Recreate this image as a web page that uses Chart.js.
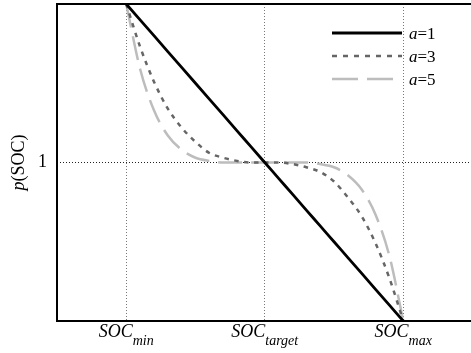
<!DOCTYPE html>
<html>
<head>
<meta charset="utf-8">
<script src="https://cdn.jsdelivr.net/npm/chart.js@4.4.1/dist/chart.umd.min.js"></script>
<style>
  html, body { margin: 0; padding: 0; background: #fff; }
  #wrap { width: 471px; height: 353px; }
</style>
</head>
<body>
<div id="wrap"><canvas id="c"></canvas></div>
<script>
// x: 0 = SOC_min, 1 = SOC_target, 2 = SOC_max
const xTicks = [0, 1, 2];
const xSubs = ["min", "target", "max"];
const yTicks = [1];

const socPoints = [0, 0.1, 0.2, 0.3, 0.4, 0.5, 0.6, 0.7, 0.8, 0.9, 1.0,
                   1.1, 1.2, 1.3, 1.4, 1.5, 1.6, 1.7, 1.8, 1.9, 2.0];
const pA1 = [2, 1.9, 1.8, 1.7, 1.6, 1.5, 1.4, 1.3, 1.2, 1.1, 1.0,
             0.9, 0.8, 0.7, 0.6, 0.5, 0.4, 0.3, 0.2, 0.1, 0];
const pA3 = [2, 1.73, 1.51, 1.34, 1.22, 1.13, 1.06, 1.03, 1.01, 1.0, 1.0,
             1.0, 0.99, 0.97, 0.94, 0.88, 0.78, 0.66, 0.49, 0.27, 0];
const pA5 = [2, 1.59, 1.33, 1.17, 1.08, 1.03, 1.01, 1.0, 1.0, 1.0, 1.0,
             1.0, 1.0, 1.0, 0.99, 0.97, 0.92, 0.83, 0.67, 0.41, 0];

const seriesNames = ["1", "3", "5"];
const seriesColors = ["#000000", "#666666", "#bdbdbd"];

const SERIF = "'Liberation Serif', 'DejaVu Serif', serif";

function pts(ys) {
  return socPoints.map((x, i) => ({ x: x, y: ys[i] }));
}

const frameAndText = {
  id: "frameAndText",
  afterDraw(chart) {
    const { ctx, chartArea: a, scales } = chart;
    ctx.save();
    // frame: left, top, bottom (right edge lies just off the canvas)
    ctx.strokeStyle = "#000";
    ctx.lineWidth = 2;
    ctx.beginPath();
    ctx.moveTo(chart.width + 2, a.top);
    ctx.lineTo(a.left, a.top);
    ctx.lineTo(a.left, a.bottom);
    ctx.lineTo(chart.width + 2, a.bottom);
    ctx.stroke();

    // x tick labels with subscripts
    ctx.fillStyle = "#000";
    ctx.textBaseline = "alphabetic";
    xTicks.forEach((v, i) => {
      const px = scales.x.getPixelForValue(v);
      ctx.font = "italic 18px " + SERIF;
      const w1 = ctx.measureText("SOC").width;
      ctx.font = "italic 14px " + SERIF;
      const w2 = ctx.measureText(xSubs[i]).width;
      const x0 = px - (w1 + w2) / 2;
      ctx.font = "italic 18px " + SERIF;
      ctx.fillText("SOC", x0, a.bottom + 16);
      ctx.font = "italic 14px " + SERIF;
      ctx.fillText(xSubs[i], x0 + w1, a.bottom + 24);
    });

    // y axis title p(SOC)
    ctx.translate(24, (a.top + a.bottom) / 2);
    ctx.rotate(-Math.PI / 2);
    ctx.font = "italic 18px " + SERIF;
    const wp = ctx.measureText("p").width;
    ctx.font = "18px " + SERIF;
    const ws = ctx.measureText("(SOC)").width;
    ctx.font = "italic 18px " + SERIF;
    ctx.fillText("p", -(wp + ws) / 2, 0);
    ctx.font = "18px " + SERIF;
    ctx.fillText("(SOC)", -(wp + ws) / 2 + wp, 0);
    ctx.restore();

    // legend
    ctx.save();
    const dashes = [[], [5, 6], [26, 9]];
    seriesNames.forEach((n, i) => {
      const y = 33 + i * 23;
      ctx.strokeStyle = seriesColors[i];
      ctx.lineWidth = i === 0 ? 2.8 : 2.5;
      ctx.setLineDash(dashes[i]);
      ctx.beginPath();
      ctx.moveTo(332, y);
      ctx.lineTo(402, y);
      ctx.stroke();
      ctx.fillStyle = "#000";
      ctx.font = "italic 17px " + SERIF;
      ctx.fillText("a", 409, y + 6);
      const wa = ctx.measureText("a").width;
      ctx.font = "17px " + SERIF;
      ctx.fillText("=" + n, 409 + wa, y + 6);
    });
    ctx.restore();
  },
};

new Chart(document.getElementById("c"), {
  type: "scatter",
  data: {
    datasets: [
      { label: "a=1", data: pts(pA1), borderColor: seriesColors[0], borderWidth: 2.8 },
      { label: "a=3", data: pts(pA3), borderColor: seriesColors[1], borderWidth: 2.5, borderDash: [4.5, 5.5] },
      { label: "a=5", data: pts(pA5), borderColor: seriesColors[2], borderWidth: 2.5, borderDash: [24, 9] },
    ].map((d) => ({ ...d, showLine: true, pointRadius: 0, cubicInterpolationMode: "monotone", fill: false })),
  },
  options: {
    responsive: true,
    maintainAspectRatio: false,
    animation: false,
    events: [],
    layout: { padding: { top: 4, right: 0, left: 0, bottom: 0 } },
    plugins: { legend: { display: false }, tooltip: { enabled: false } },
    scales: {
      x: {
        type: "linear",
        min: -0.5,
        max: 2.489,
        afterBuildTicks: (s) => { s.ticks = xTicks.map((v) => ({ value: v })); },
        afterFit: (s) => { s.height = 32; s.paddingLeft = 0; s.paddingRight = 0; },
        ticks: { display: false },
        grid: { color: "#777", lineWidth: 1, drawTicks: false },
        border: { display: false, dash: [1, 2] },
      },
      y: {
        min: 0,
        max: 2,
        afterBuildTicks: (s) => { s.ticks = yTicks.map((v) => ({ value: v })); },
        afterFit: (s) => { s.width = 57; s.paddingTop = 0; s.paddingBottom = 0; },
        ticks: { color: "#000", font: { family: SERIF, size: 18 }, padding: 10 },
        grid: { color: "#222", lineWidth: 1, drawTicks: false },
        border: { display: false, dash: [1, 2] },
      },
    },
  },
  plugins: [frameAndText],
});
</script>
</body>
</html>
